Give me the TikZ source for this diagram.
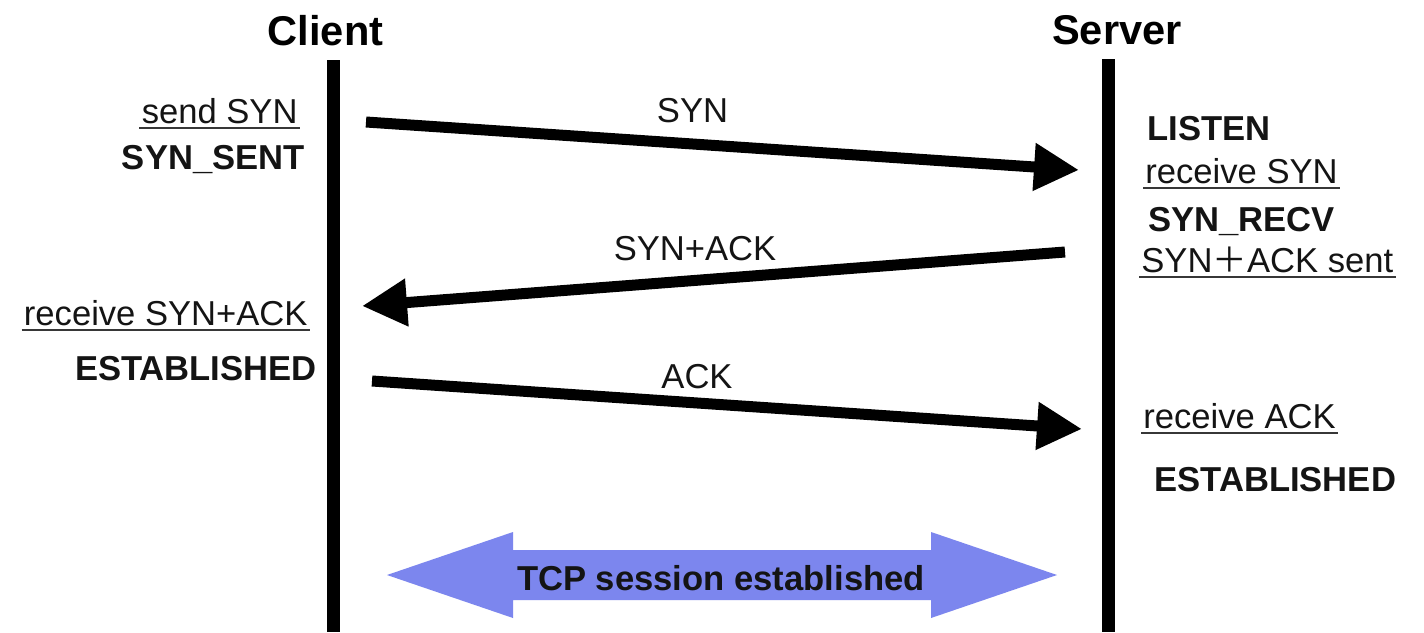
\documentclass[tikz,border=0pt]{standalone}
\usepackage{fontspec}
\setmainfont{Liberation Sans}
\newfontfamily\cjkfont{Noto Sans CJK SC}
\usetikzlibrary{arrows.meta}
\definecolor{tcpblue}{RGB}{124,134,238}
\definecolor{ink}{RGB}{20,20,20}
\begin{document}
\begin{tikzpicture}[x=0.5pt,y=-0.5pt,
  txt/.style={inner sep=0pt, text=ink, font=\fontsize{17.3pt}{20pt}\selectfont},
  bld/.style={inner sep=0pt, text=ink, font=\fontsize{17.3pt}{20pt}\selectfont\bfseries},
  hdr/.style={inner sep=0pt, text=black, font=\fontsize{20.8pt}{24pt}\selectfont\bfseries},
  ulline/.style={draw=ink!85, line width=1.1pt},
  ul/.style={append after command={([xshift=-1pt,yshift=-2.4pt]\tikzlastnode.base west) edge[ulline] ([xshift=1pt,yshift=-2.4pt]\tikzlastnode.base east)}},
  life/.style={line width=6.5pt, draw=black},
  msg/.style={line width=5.5pt, draw=black, -{Triangle[length=22.5pt,width=22.5pt]}},
]
\useasboundingbox (0,0) rectangle (1424,632);
\fill[white] (0,0) rectangle (1424,632);

% headers
\node[hdr, anchor=base] (client) at (325.5,45) {Client};
\node[hdr, anchor=base] (server) at (1117,44) {Server};

% lifelines
\coordinate (ctop) at (333,60);
\coordinate (cbot) at (333,632);
\coordinate (stop) at (1108,59);
\coordinate (sbot) at (1108,632);
\draw[life] (ctop) -- (cbot);
\draw[life] (stop) -- (sbot);

% client states
\node[txt, ul, anchor=base east] (sendsyn) at (298,123) {send SYN};
\node[bld, anchor=base east] (synsent) at (305,169) {SYN\_SENT};
\node[txt, ul, anchor=base east] (recvsa) at (308,325) {receive SYN+ACK};
\node[bld, anchor=base east] (estc) at (317,380) {ESTABLISHED};

% server states
\node[bld, anchor=base west] (listen) at (1147,140) {LISTEN};
\node[txt, ul, anchor=base west] (recvsyn) at (1145,183) {receive SYN};
\node[bld, anchor=base west] (synrecv) at (1148,231) {SYN\_RECV};
\node[txt, ul, anchor=base west] (sasent) at (1141,272) {SYN{\cjkfont ＋}ACK sent};
\node[txt, ul, anchor=base west] (recvack) at (1143,428) {receive ACK};
\node[bld, anchor=base west] (ests) at (1154,491) {ESTABLISHED};

% messages
\coordinate (synA) at (366,122);
\coordinate (synB) at (1079,170);
\coordinate (saA) at (1065,252);
\coordinate (saB) at (362,306);
\coordinate (ackA) at (372,381);
\coordinate (ackB) at (1082,429);
\draw[msg] (synA) -- (synB);
\draw[msg] (saA) -- (saB);
\draw[msg] (ackA) -- (ackB);
\node[txt, anchor=base] (lsyn) at (692.5,122) {SYN};
\node[txt, anchor=base] (lsa) at (695,260) {SYN+ACK};
\node[txt, anchor=base] (lack) at (697,388) {ACK};

% session arrow
\fill[tcpblue] (387,575) -- (513,532) -- (513,550) -- (931,550) -- (931,532)
  -- (1057,575) -- (931,618) -- (931,600) -- (513,600) -- (513,618) -- cycle;
\node[bld, anchor=base] (tcp) at (721,590) {TCP session established};
\end{tikzpicture}
\end{document}
